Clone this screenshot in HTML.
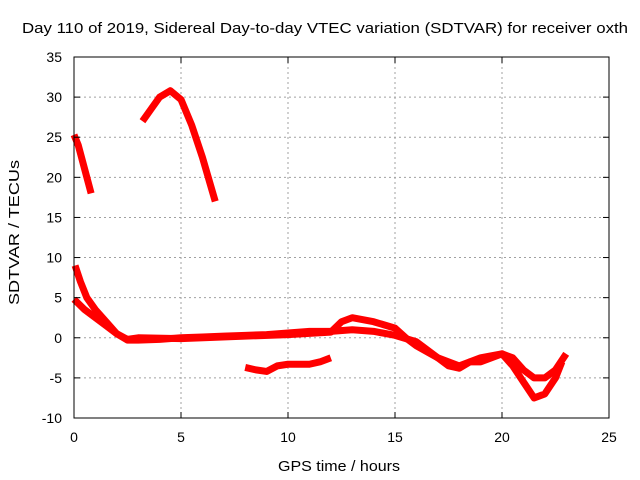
<!DOCTYPE html>
<html><head><meta charset="utf-8"><style>
body{margin:0;background:#fff}
svg{display:block;font-family:"Liberation Sans",sans-serif}
</style></head><body>
<svg id="chart" width="640" height="480">
<text x="22" y="33" font-size="15" textLength="606" lengthAdjust="spacingAndGlyphs">Day 110 of 2019, Sidereal Day-to-day VTEC variation (SDTVAR) for receiver oxth</text>
<g id="grid"></g>
<g id="marks"></g>
<rect x="74" y="57" width="535" height="361" fill="none" stroke="#000"/>
<g id="ticks"></g>
<text x="278" y="471" font-size="15" textLength="122" lengthAdjust="spacingAndGlyphs">GPS time / hours</text>
<text transform="translate(19,305) rotate(-90)" font-size="15" textLength="145" lengthAdjust="spacingAndGlyphs">SDTVAR / TECUs</text>
</svg>
<script>
const xTicks=[0,5,10,15,20,25];
const yTicks=[-10,-5,0,5,10,15,20,25,30,35];
const seriesA=[[0,25.3],[0.2,24],[0.4,22],[0.6,20],[0.8,18]];
const seriesB=[[3.2,27],[3.6,28.5],[4,30],[4.5,30.8],[5,29.7],[5.5,26.5],[6,22.5],[6.6,17]];
const seriesC=[[0.05,9],[0.3,7],[0.6,5],[1,3.5],[1.5,2],[2,0.5],[2.5,-0.3],[3,-0.3],[4,-0.2],[5,0],[6,0.1],[7,0.2],[8,0.3],[9,0.4],[10,0.6],[11,0.8],[12,0.8],[13,1],[14,0.8],[15,0.3],[16,-0.5],[17,-2.5],[18,-3.5],[19,-2.5],[20,-2],[20.5,-3.5],[21,-5.5],[21.5,-7.5],[22,-7],[22.5,-5],[22.8,-3]];
const seriesD=[[0,4.8],[0.5,3.5],[1,2.5],[1.5,1.5],[2,0.5],[2.5,-0.2],[3,0],[5,-0.1],[8,0.2],[10,0.4],[12,0.7],[12.5,2],[13,2.5],[14,2],[15,1.2],[15.5,0],[16,-1],[17,-2.5],[17.5,-3.5],[18,-3.8],[18.5,-3],[19,-3],[19.5,-2.5],[20,-2],[20.5,-2.5],[21,-4],[21.5,-5],[22,-5],[22.5,-4],[23,-2]];
const seriesE=[[8,-3.7],[8.5,-4],[9,-4.2],[9.5,-3.5],[10,-3.3],[11,-3.3],[11.5,-3],[12,-2.5]];
const allSeries=[seriesA,seriesB,seriesC,seriesD,seriesE];
const X=h=>74+h*535/25, Y=v=>418-(v+10)*361/45;
const NS='http://www.w3.org/2000/svg';
const grid=document.getElementById('grid'),ticks=document.getElementById('ticks'),marks=document.getElementById('marks');
function mk(tag,attrs,parent){const e=document.createElementNS(NS,tag);for(const k in attrs)e.setAttribute(k,attrs[k]);parent.appendChild(e);return e;}
xTicks.forEach(t=>{
  if(t>0&&t<25){const l=mk('line',{x1:X(t),x2:X(t),y1:57,y2:418,stroke:'#a0a0a0','stroke-dasharray':'2,3'},grid);
  
  }
  mk('line',{x1:X(t),x2:X(t),y1:418,y2:412,stroke:'#000'},ticks);
  mk('line',{x1:X(t),x2:X(t),y1:57,y2:63,stroke:'#000'},ticks);
  const tx=mk('text',{x:X(t),y:442,'text-anchor':'middle','font-size':14},ticks);tx.textContent=t;
  
  
});
yTicks.forEach(t=>{
  if(t>-10&&t<35){const l=mk('line',{x1:74,x2:609,y1:Y(t),y2:Y(t),stroke:'#a0a0a0','stroke-dasharray':'2,3'},grid);
  
  }
  mk('line',{x1:74,x2:80,y1:Y(t),y2:Y(t),stroke:'#000'},ticks);
  mk('line',{x1:609,x2:603,y1:Y(t),y2:Y(t),stroke:'#000'},ticks);
  const tx=mk('text',{x:62,y:Y(t)+5,'text-anchor':'end','font-size':14},ticks);tx.textContent=t;
  
  
});
allSeries.forEach((s,i)=>{
  const p=mk('polyline',{points:s.map(d=>X(d[0])+','+Y(d[1])).join(' '),fill:'none',stroke:'#ff0000','stroke-width':7,'stroke-linejoin':'round'},marks);
  
  
});
</script>
</body></html>
